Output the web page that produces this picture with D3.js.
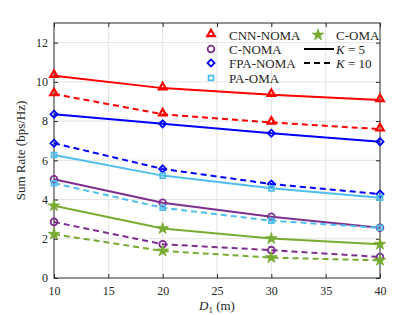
<!DOCTYPE html>
<html>
<head>
<meta charset="utf-8">
<script src="https://cdn.jsdelivr.net/npm/d3@7"></script>
<style>
  body { margin: 0; background: #fff; }
  svg text { font-family: "Liberation Serif", "DejaVu Serif", serif; fill: #262626; }
</style>
</head>
<body>
<div id="chart"></div>
<script>
// distances D1 (m)
const distances = [10, 20, 30, 40];
const xTicks = [10, 15, 20, 25, 30, 35, 40];
const yTicks = [0, 2, 4, 6, 8, 10, 12];

// sum rate (bps/Hz), K = 5 and K = 10
const cnnNoma5 = [10.31, 9.68, 9.34, 9.08];
const cnnNoma10 = [9.38, 8.35, 7.93, 7.59];
const fpaNoma5 = [8.35, 7.86, 7.38, 6.95];
const fpaNoma10 = [6.87, 5.56, 4.79, 4.28];
const paOma5 = [6.27, 5.22, 4.57, 4.09];
const paOma10 = [4.83, 3.58, 2.92, 2.56];
const cNoma5 = [5.03, 3.84, 3.12, 2.56];
const cNoma10 = [2.86, 1.72, 1.42, 1.07];
const cOma5 = [3.68, 2.52, 2.01, 1.72];
const cOma10 = [2.23, 1.38, 1.04, 0.90];

const width = 420, height = 315;
const margin = { top: 23, right: 40, bottom: 37, left: 54 };
const w = width - margin.left - margin.right;
const h = height - margin.top - margin.bottom;

const methods = [
  { name: "CNN-NOMA", color: "#ff0000", marker: "triangle", k5: cnnNoma5, k10: cnnNoma10 },
  { name: "C-NOMA", color: "#7e2f8e", marker: "circle", k5: cNoma5, k10: cNoma10 },
  { name: "FPA-NOMA", color: "#0000ff", marker: "diamond", k5: fpaNoma5, k10: fpaNoma10 },
  { name: "PA-OMA", color: "#4dbeee", marker: "square", k5: paOma5, k10: paOma10 },
  { name: "C-OMA", color: "#77ac30", marker: "star", k5: cOma5, k10: cOma10 }
];

const svg = d3.select("#chart").append("svg")
  .attr("width", width).attr("height", height);
const g = svg.append("g").attr("transform", `translate(${margin.left},${margin.top})`);

const x = d3.scaleLinear().domain([10, 40]).range([0, w]);
const y = d3.scaleLinear().domain([0, 13]).range([h, 0]);

// grid
g.append("g").selectAll("line").data(xTicks.slice(1, -1)).join("line")
  .attr("x1", d => x(d)).attr("x2", d => x(d)).attr("y1", 0).attr("y2", h)
  .attr("stroke", "#e3e3e3").attr("stroke-width", 1);
g.append("g").selectAll("line").data(yTicks.slice(1)).join("line")
  .attr("x1", 0).attr("x2", w).attr("y1", d => y(d)).attr("y2", d => y(d))
  .attr("stroke", "#e3e3e3").attr("stroke-width", 1);

// axes with inward ticks
const axisStyle = sel => {
  sel.select(".domain").remove();
  sel.selectAll(".tick line").attr("stroke", "#262626");
  sel.selectAll(".tick text").attr("font-size", 12).attr("fill", "#262626")
    .attr("font-family", "Liberation Serif, DejaVu Serif, serif");
};
g.append("g").attr("transform", `translate(0,${h})`)
  .call(d3.axisBottom(x).tickValues(xTicks).tickSizeInner(-4).tickSizeOuter(0).tickPadding(8))
  .call(axisStyle);
g.append("g")
  .call(d3.axisLeft(y).tickValues(yTicks).tickSizeInner(-4).tickSizeOuter(0).tickPadding(6))
  .call(axisStyle);
g.append("g").attr("transform", `translate(0,0)`)
  .call(d3.axisTop(x).tickValues(xTicks).tickSizeInner(-4).tickSizeOuter(0).tickFormat(""))
  .call(axisStyle);
g.append("g").attr("transform", `translate(${w},0)`)
  .call(d3.axisRight(y).tickValues(yTicks).tickSizeInner(-4).tickSizeOuter(0).tickFormat(""))
  .call(axisStyle);
g.append("rect").attr("width", w).attr("height", h)
  .attr("fill", "none").attr("stroke", "#262626").attr("stroke-width", 1);

// markers
const symbols = {
  triangle: d3.symbol(d3.symbolTriangle2, 40),
  circle: d3.symbol(d3.symbolCircle2, 36),
  diamond: d3.symbol(d3.symbolDiamond2, 32),
  square: d3.symbol(d3.symbolSquare2, 30),
  star: d3.symbol(d3.symbolStar, 42)
};
function drawMarker(sel, m) {
  const p = sel.append("path").attr("d", symbols[m.marker]());
  if (m.marker === "star") {
    p.attr("fill", m.color).attr("stroke", m.color).attr("stroke-width", 0.8);
  } else if (m.marker === "triangle") {
    p.attr("fill", "none").attr("stroke", m.color).attr("stroke-width", 2.2).attr("transform", "translate(0,-1)");
  } else {
    p.attr("fill", "none").attr("stroke", m.color).attr("stroke-width", 1.8);
  }
}

const line = d3.line().x((d, i) => x(distances[i])).y(d => y(d));
const plot = g.append("g");
methods.forEach(m => {
  [["k5", null], ["k10", "6,4"]].forEach(([key, dash]) => {
    plot.append("path").datum(m[key]).attr("d", line)
      .attr("fill", "none").attr("stroke", m.color).attr("stroke-width", 2)
      .attr("stroke-dasharray", dash);
    m[key].forEach((v, i) => {
      const mk = plot.append("g").attr("transform", `translate(${x(distances[i])},${y(v)})`);
      drawMarker(mk, m);
    });
  });
});

// legend
const legend = svg.append("g");
const rowY = [35, 49, 63, 78];
const fs = 13;
methods.slice(0, 4).forEach((m, i) => {
  const it = legend.append("g").attr("transform", `translate(211,${rowY[i]})`);
  drawMarker(it, m);
  legend.append("text").attr("x", 229).attr("y", rowY[i] + 4.5).attr("font-size", fs).text(m.name);
});
const star = legend.append("g").attr("transform", `translate(318,${rowY[0]})`);
drawMarker(star, methods[4]);
legend.append("text").attr("x", 336).attr("y", rowY[0] + 4.5).attr("font-size", fs).text("C-OMA");
[["5", null], ["10", "6,4"]].forEach(([k, dash], i) => {
  const yy = rowY[i + 1];
  legend.append("line").attr("x1", 304).attr("x2", 334).attr("y1", yy).attr("y2", yy)
    .attr("stroke", "#000").attr("stroke-width", 2).attr("stroke-dasharray", dash);
  const t = legend.append("text").attr("x", 336).attr("y", yy + 4.5).attr("font-size", fs);
  t.append("tspan").attr("font-style", "italic").text("K");
  t.append("tspan").text(" = " + k);
});

// axis labels
svg.append("text").attr("transform", `translate(25,${margin.top + h / 2}) rotate(-90)`)
  .attr("text-anchor", "middle").attr("font-size", 13).text("Sum Rate (bps/Hz)");
const xl = svg.append("text").attr("x", margin.left + w / 2).attr("y", 310)
  .attr("text-anchor", "middle").attr("font-size", 13);
xl.append("tspan").attr("font-style", "italic").text("D");
xl.append("tspan").attr("font-size", 9).attr("dy", 3).text("1");
xl.append("tspan").attr("dy", -3).text(" (m)");
</script>
</body>
</html>
